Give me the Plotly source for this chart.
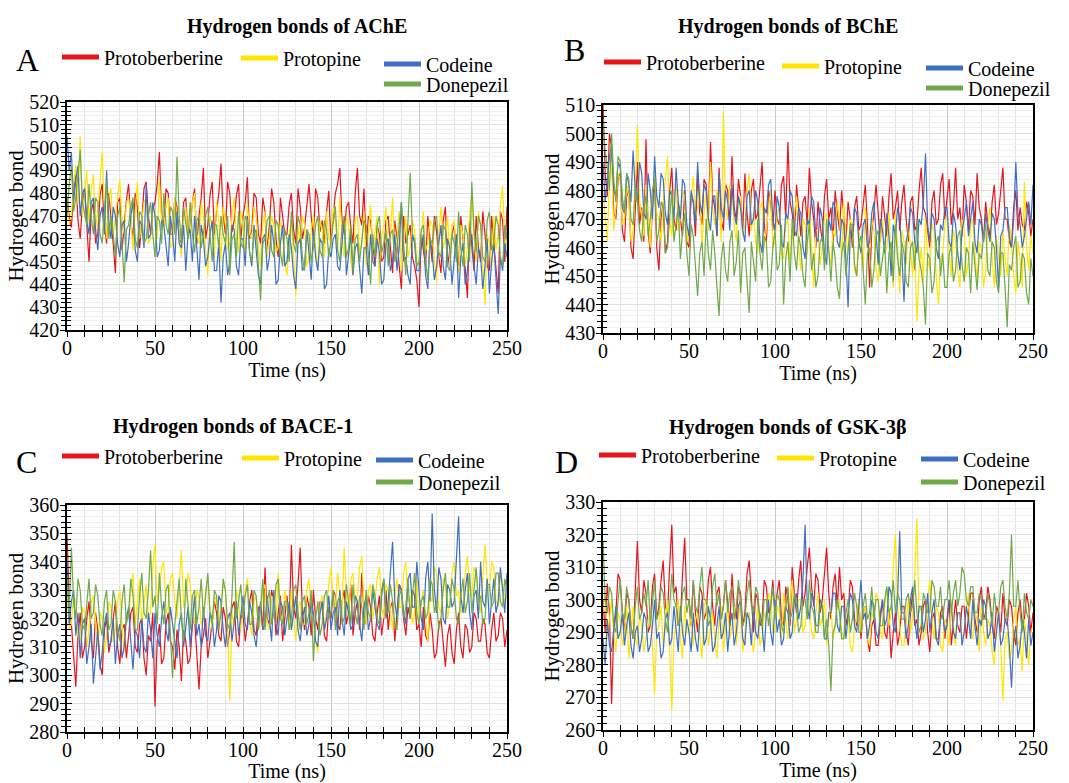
import plotly.graph_objects as go

# ---------------- data ----------------
SERIES_NAMES = ["Protoberberine", "Protopine", "Codeine", "Donepezil"]
SERIES_COLORS = ["#e8141c", "#ffe500", "#3f6fc4", "#6fa94a"]
PANEL_TITLES = ["Hydrogen bonds of AChE", "Hydrogen bonds of BChE",
                "Hydrogen bonds of BACE-1", "Hydrogen bonds of GSK-3β"]
PANEL_LETTERS = ["A", "B", "C", "D"]
Y_RANGES = [[420, 520], [430, 510], [280, 360], [260, 330]]
X_RANGE = [0, 250]
X_TICKS = [0, 50, 100, 150, 200, 250]
X_TITLE = "Time (ns)"
Y_TITLE = "Hydrogen bond"

# Panel A - AChE
ache_protoberberine = [
    478, 470, 465, 481, 488, 468, 460, 475, 482, 463, 450, 472, 476, 458, 462, 479, 484, 466, 458, 480,
    470, 458, 445, 476, 478, 455, 466, 477, 484, 468, 460, 480, 474, 456, 468, 482, 485, 470, 462, 473,
    476, 484, 498, 470, 466, 482, 480, 462, 462, 478, 474, 460, 458, 476, 478, 461, 465, 476, 482, 458,
    470, 478, 491, 460, 466, 479, 485, 462, 472, 480, 493, 470, 462, 485, 480, 463, 468, 479, 484, 460,
    470, 476, 487, 460, 464, 480, 478, 462, 458, 478, 472, 455, 466, 482, 476, 460, 452, 478, 470, 462,
    462, 475, 480, 464, 458, 482, 474, 460, 465, 476, 484, 470, 460, 482, 478, 463, 468, 458, 472, 481,
    458, 470, 480, 484, 491, 468, 462, 474, 476, 465, 458, 480, 491, 470, 466, 482, 456, 470, 468, 458,
    448, 466, 462, 450, 452, 468, 470, 456, 445, 468, 460, 448, 438, 470, 458, 462, 466, 452, 448, 442,
    430, 462, 455, 448, 470, 458, 450, 470, 463, 452, 445, 468, 474, 448, 456, 462, 466, 452, 448, 470,
    460, 448, 434, 468, 458, 446, 470, 456, 450, 472, 462, 448, 446, 470, 458, 446, 436, 472, 468, 450,
    474]
ache_protopine = [
    478, 466, 470, 484, 492, 475, 505, 470, 480, 490, 466, 482, 488, 465, 472, 486, 498, 474, 460, 478,
    482, 462, 470, 480, 486, 468, 462, 476, 478, 470, 455, 472, 485, 460, 468, 476, 478, 458, 460, 474,
    472, 460, 486, 468, 465, 474, 478, 456, 458, 478, 470, 462, 452, 468, 474, 460, 462, 476, 480, 462,
    458, 476, 470, 455, 444, 470, 466, 452, 476, 468, 450, 474, 468, 455, 458, 470, 478, 460, 454, 472,
    466, 452, 476, 462, 460, 474, 470, 456, 448, 466, 472, 452, 460, 470, 466, 454, 456, 468, 462, 450,
    444, 462, 468, 450, 435, 466, 458, 470, 466, 448, 452, 464, 470, 456, 446, 468, 464, 452, 472, 460,
    458, 474, 468, 455, 478, 462, 452, 470, 466, 450, 444, 468, 470, 454, 458, 472, 448, 462, 475, 455,
    462, 470, 440, 460, 466, 474, 452, 462, 478, 455, 460, 472, 446, 458, 470, 452, 456, 468, 464, 450,
    448, 462, 472, 455, 458, 468, 466, 450, 441, 462, 474, 456, 460, 470, 452, 466, 468, 452, 445, 466,
    462, 448, 456, 470, 480, 460, 450, 472, 466, 448, 431, 462, 458, 446, 470, 455, 462, 474, 483, 460,
    456]
ache_codeine = [
    505, 490, 498, 476, 486, 492, 470, 480, 482, 468, 462, 476, 478, 464, 455, 470, 474, 462, 490, 468,
    460, 474, 470, 458, 452, 466, 468, 450, 458, 470, 476, 455, 450, 468, 466, 456, 484, 460, 462, 476,
    470, 452, 455, 468, 466, 456, 448, 470, 462, 450, 472, 458, 456, 466, 446, 462, 464, 450, 470, 456,
    442, 466, 460, 448, 452, 462, 468, 446, 446, 458, 432, 452, 458, 444, 450, 466, 464, 448, 444, 460,
    460, 448, 470, 454, 448, 466, 456, 444, 440, 460, 462, 446, 452, 466, 458, 440, 442, 458, 466, 448,
    450, 462, 456, 444, 438, 458, 460, 446, 448, 464, 454, 442, 464, 452, 446, 460, 458, 438, 440, 456,
    452, 460, 462, 448, 446, 458, 470, 444, 452, 462, 444, 456, 458, 448, 436, 456, 456, 444, 462, 450,
    448, 460, 454, 440, 442, 458, 460, 446, 450, 462, 446, 456, 476, 450, 452, 444, 440, 462, 458, 446,
    446, 456, 462, 444, 438, 460, 454, 442, 448, 458, 466, 448, 442, 460, 456, 440, 450, 462, 434, 452,
    458, 440, 446, 458, 462, 448, 440, 456, 452, 438, 448, 460, 436, 450, 458, 440, 427, 452, 446, 458,
    452]
ache_donepezil = [
    470, 484, 492, 472, 478, 488, 499, 476, 470, 466, 484, 470, 462, 478, 476, 462, 458, 474, 486, 460,
    470, 462, 452, 470, 474, 458, 441, 464, 466, 474, 478, 460, 456, 472, 470, 458, 460, 470, 476, 462,
    452, 470, 468, 458, 480, 466, 462, 474, 472, 462, 496, 470, 458, 474, 468, 460, 476, 462, 454, 468,
    470, 456, 462, 470, 474, 460, 450, 466, 466, 456, 470, 462, 458, 470, 444, 460, 462, 452, 472, 458,
    456, 470, 468, 454, 450, 462, 464, 448, 433, 458, 460, 468, 470, 455, 452, 468, 466, 454, 448, 464,
    460, 450, 472, 458, 454, 470, 466, 452, 446, 464, 462, 450, 456, 466, 470, 455, 452, 468, 464, 452,
    460, 468, 474, 455, 450, 466, 468, 452, 456, 466, 446, 460, 462, 450, 458, 468, 466, 452, 440, 462,
    452, 466, 470, 454, 458, 464, 448, 462, 464, 450, 456, 466, 476, 458, 444, 468, 489, 462, 460, 448,
    450, 464, 466, 450, 442, 460, 458, 468, 470, 454, 452, 466, 464, 448, 446, 462, 458, 450, 472, 456,
    448, 466, 462, 450, 485, 464, 454, 470, 466, 452, 450, 468, 472, 455, 458, 470, 466, 452, 448, 466,
    460]

# Panel B - BChE
bche_protoberberine = [
    510, 486, 478, 500, 495, 472, 470, 484, 486, 466, 462, 478, 480, 460, 456, 472, 490, 468, 474, 462,
    498, 466, 458, 474, 484, 460, 452, 470, 476, 458, 462, 480, 488, 470, 466, 476, 470, 464, 480, 462,
    460, 478, 476, 464, 486, 472, 468, 484, 482, 470, 497, 478, 474, 464, 488, 470, 466, 482, 480, 468,
    492, 474, 470, 484, 478, 466, 486, 472, 464, 480, 484, 470, 472, 482, 490, 468, 462, 480, 476, 466,
    480, 470, 468, 482, 485, 470, 497, 476, 472, 464, 482, 474, 464, 476, 478, 468, 488, 476, 470, 460,
    476, 468, 462, 478, 484, 470, 474, 462, 480, 472, 466, 480, 470, 462, 476, 470, 460, 474, 478, 466,
    468, 476, 482, 468, 446, 466, 472, 482, 470, 462, 478, 470, 464, 478, 486, 470, 474, 480, 466, 476,
    482, 470, 462, 476, 478, 466, 468, 480, 488, 474, 472, 466, 460, 476, 480, 468, 470, 482, 486, 470,
    476, 484, 468, 474, 488, 470, 474, 464, 482, 476, 466, 480, 478, 468, 486, 474, 470, 462, 476, 468,
    464, 476, 482, 468, 472, 480, 488, 470, 470, 462, 460, 474, 480, 466, 474, 468, 466, 476, 472, 464,
    470]
bche_protopine = [
    480, 472, 462, 484, 490, 466, 474, 486, 484, 468, 470, 482, 478, 462, 466, 480, 503, 476, 472, 464,
    482, 470, 460, 476, 488, 472, 470, 462, 476, 484, 492, 470, 464, 478, 482, 466, 470, 480, 478, 462,
    466, 478, 485, 470, 474, 482, 460, 472, 480, 466, 490, 474, 468, 480, 476, 462, 508, 474, 470, 482,
    480, 468, 462, 476, 478, 464, 468, 480, 486, 466, 472, 462, 458, 474, 476, 460, 466, 474, 480, 460,
    462, 472, 474, 458, 456, 468, 470, 454, 464, 472, 478, 460, 452, 470, 468, 458, 474, 462, 446, 466,
    466, 454, 460, 470, 472, 458, 454, 466, 464, 476, 470, 456, 476, 464, 458, 470, 468, 452, 450, 466,
    462, 452, 474, 460, 458, 470, 466, 452, 448, 464, 470, 458, 460, 472, 456, 446, 472, 460, 444, 466,
    462, 454, 468, 460, 450, 462, 434, 452, 460, 448, 470, 456, 452, 468, 466, 450, 440, 456, 458, 468,
    472, 458, 450, 466, 462, 452, 446, 470, 466, 450, 456, 468, 470, 458, 448, 462, 460, 446, 452, 468,
    474, 456, 446, 464, 458, 450, 466, 456, 450, 468, 462, 450, 444, 462, 456, 446, 483, 460, 452, 464,
    458]
bche_codeine = [
    490, 476, 484, 492, 496, 480, 478, 490, 488, 474, 472, 486, 482, 476, 494, 480, 476, 490, 486, 472,
    470, 486, 480, 470, 492, 478, 474, 486, 484, 472, 468, 480, 478, 470, 488, 476, 470, 484, 482, 468,
    464, 480, 476, 468, 490, 476, 472, 482, 480, 470, 466, 478, 478, 464, 486, 474, 470, 480, 476, 466,
    482, 472, 468, 478, 474, 466, 462, 478, 480, 468, 470, 480, 476, 462, 458, 474, 472, 482, 484, 470,
    466, 478, 474, 462, 460, 472, 470, 480, 478, 466, 464, 474, 472, 460, 456, 470, 468, 478, 476, 464,
    462, 474, 470, 458, 454, 470, 466, 476, 474, 462, 460, 470, 468, 456, 439, 466, 464, 474, 472, 462,
    458, 468, 470, 460, 462, 472, 476, 464, 454, 470, 466, 458, 472, 464, 450, 468, 464, 474, 470, 458,
    441, 462, 466, 474, 472, 462, 458, 470, 468, 476, 493, 468, 462, 472, 470, 460, 456, 468, 466, 474,
    474, 462, 460, 472, 468, 458, 452, 466, 470, 476, 464, 470, 476, 462, 458, 470, 468, 462, 472, 466,
    462, 472, 470, 460, 446, 464, 466, 474, 474, 464, 460, 470, 490, 472, 468, 460, 464, 470, 476, 468,
    482]
bche_donepezil = [
    505, 494, 488, 480, 500, 484, 476, 492, 490, 478, 472, 486, 484, 470, 468, 482, 476, 466, 462, 474,
    478, 464, 470, 480, 484, 462, 466, 476, 474, 458, 460, 472, 480, 462, 468, 474, 456, 466, 472, 458,
    450, 468, 464, 452, 443, 458, 462, 450, 470, 458, 452, 466, 458, 446, 436, 456, 462, 452, 448, 462,
    466, 450, 455, 466, 444, 458, 460, 448, 437, 462, 456, 448, 470, 458, 452, 464, 462, 446, 448, 460,
    466, 452, 454, 468, 440, 456, 462, 448, 470, 458, 452, 464, 460, 450, 446, 462, 468, 452, 458, 446,
    450, 462, 464, 452, 470, 458, 448, 462, 456, 446, 442, 458, 462, 450, 458, 468, 468, 454, 450, 462,
    464, 452, 440, 458, 460, 446, 452, 464, 466, 450, 456, 462, 444, 458, 462, 448, 468, 456, 450, 462,
    458, 448, 446, 460, 462, 452, 470, 456, 452, 446, 433, 458, 456, 444, 448, 462, 464, 450, 458, 446,
    446, 458, 460, 448, 452, 464, 466, 454, 448, 460, 458, 444, 462, 452, 445, 458, 456, 464, 468, 452,
    450, 462, 460, 448, 444, 458, 458, 446, 432, 454, 452, 460, 464, 446, 448, 458, 456, 444, 440, 456,
    450]

# Panel C - BACE-1
bace_protoberberine = [
    350, 326, 318, 308, 296, 314, 322, 306, 310, 320, 326, 312, 306, 322, 316, 304, 300, 316, 320, 308,
    312, 320, 326, 310, 304, 316, 318, 306, 314, 322, 324, 310, 308, 318, 320, 306, 300, 314, 312, 322,
    289, 312, 318, 304, 306, 318, 322, 312, 310, 302, 316, 310, 298, 316, 312, 304, 306, 318, 320, 308,
    295, 310, 314, 320, 306, 312, 318, 326, 322, 314, 312, 324, 320, 310, 316, 324, 326, 312, 310, 320,
    322, 312, 318, 326, 330, 316, 314, 324, 324, 316, 338, 320, 318, 330, 326, 314, 322, 328, 312, 320,
    328, 318, 346, 324, 320, 332, 345, 322, 316, 328, 324, 314, 330, 320, 316, 326, 324, 314, 312, 324,
    320, 330, 328, 318, 316, 326, 330, 318, 322, 332, 314, 322, 326, 316, 336, 322, 318, 328, 324, 314,
    312, 322, 328, 314, 320, 330, 316, 324, 326, 312, 322, 332, 330, 320, 314, 324, 320, 330, 328, 316,
    318, 310, 324, 314, 312, 322, 316, 306, 308, 318, 320, 310, 303, 314, 318, 308, 304, 316, 322, 310,
    306, 318, 316, 308, 310, 322, 320, 312, 312, 320, 318, 308, 306, 316, 322, 312, 314, 322, 320, 310,
    316]
bace_protopine = [
    330, 316, 318, 328, 326, 314, 312, 324, 322, 310, 316, 326, 328, 318, 310, 322, 320, 308, 314, 326,
    324, 312, 316, 326, 330, 318, 308, 322, 320, 330, 336, 318, 326, 334, 318, 326, 332, 320, 322, 338,
    346, 326, 330, 338, 340, 322, 324, 334, 336, 326, 320, 332, 344, 324, 326, 336, 332, 322, 318, 330,
    328, 318, 320, 330, 334, 322, 316, 328, 326, 318, 324, 332, 330, 316, 291, 322, 318, 330, 326, 316,
    322, 330, 334, 320, 314, 326, 328, 316, 320, 330, 332, 318, 316, 328, 326, 318, 336, 322, 318, 330,
    324, 316, 330, 322, 312, 324, 326, 318, 318, 330, 334, 322, 320, 312, 308, 324, 328, 316, 322, 332,
    338, 326, 324, 336, 330, 322, 345, 328, 320, 334, 336, 326, 328, 338, 342, 324, 318, 330, 332, 320,
    326, 334, 338, 324, 320, 332, 330, 322, 316, 328, 334, 324, 324, 336, 340, 326, 328, 318, 322, 334,
    318, 326, 330, 320, 312, 328, 326, 338, 336, 324, 322, 334, 332, 320, 326, 336, 340, 328, 330, 322,
    324, 336, 342, 330, 328, 338, 336, 326, 322, 334, 346, 332, 330, 340, 338, 326, 324, 336, 332, 326,
    328]
bace_codeine = [
    340, 318, 326, 330, 314, 322, 306, 318, 320, 304, 310, 318, 297, 308, 316, 302, 308, 318, 322, 310,
    312, 320, 304, 314, 318, 306, 310, 320, 324, 312, 302, 316, 314, 306, 320, 310, 308, 322, 316, 306,
    322, 314, 310, 320, 326, 316, 312, 324, 318, 310, 306, 318, 322, 310, 316, 324, 310, 318, 328, 314,
    318, 310, 324, 314, 312, 322, 320, 310, 316, 328, 326, 316, 310, 320, 322, 312, 318, 326, 314, 322,
    328, 318, 316, 326, 322, 314, 310, 320, 326, 316, 318, 328, 320, 312, 330, 318, 314, 326, 324, 314,
    320, 326, 316, 322, 328, 316, 312, 320, 324, 314, 318, 326, 322, 312, 310, 322, 326, 316, 320, 328,
    316, 322, 324, 314, 330, 320, 314, 326, 322, 316, 318, 328, 326, 318, 312, 324, 328, 316, 320, 330,
    324, 318, 316, 328, 334, 320, 326, 338, 347, 326, 320, 332, 330, 322, 318, 334, 336, 324, 324, 340,
    328, 320, 316, 334, 340, 326, 357, 330, 322, 338, 334, 320, 318, 332, 330, 324, 326, 340, 356, 328,
    322, 330, 336, 322, 316, 328, 330, 320, 340, 326, 324, 334, 318, 326, 334, 322, 326, 338, 330, 322,
    336]
bace_donepezil = [
    335, 322, 345, 326, 320, 334, 330, 318, 316, 326, 334, 320, 322, 332, 328, 318, 314, 326, 330, 316,
    318, 330, 326, 316, 312, 326, 332, 318, 322, 334, 328, 316, 316, 328, 336, 322, 320, 330, 344, 324,
    328, 318, 336, 324, 318, 330, 332, 314, 299, 318, 326, 334, 320, 312, 334, 324, 316, 328, 330, 318,
    324, 334, 320, 328, 336, 322, 318, 330, 328, 316, 322, 334, 330, 318, 316, 328, 347, 320, 326, 332,
    320, 328, 332, 318, 318, 330, 328, 316, 324, 334, 316, 326, 330, 318, 322, 332, 334, 320, 318, 326,
    326, 316, 320, 330, 332, 322, 316, 326, 328, 318, 322, 330, 305, 320, 326, 314, 318, 328, 330, 320,
    322, 330, 316, 326, 328, 318, 320, 332, 326, 318, 332, 322, 318, 328, 324, 316, 330, 322, 320, 332,
    328, 320, 318, 330, 334, 322, 322, 332, 326, 318, 316, 328, 330, 320, 324, 334, 320, 328, 336, 322,
    318, 326, 328, 320, 322, 334, 332, 322, 326, 316, 320, 330, 336, 324, 324, 334, 330, 320, 318, 328,
    334, 322, 326, 336, 322, 330, 338, 326, 328, 318, 320, 332, 332, 324, 326, 336, 336, 326, 324, 334,
    330]

# Panel D - GSK-3beta
gsk_protoberberine = [
    300, 290, 305, 296, 268, 290, 296, 308, 306, 296, 290, 302, 300, 292, 288, 304, 318, 300, 296, 306,
    302, 290, 292, 304, 308, 294, 298, 306, 312, 298, 296, 310, 323, 302, 304, 292, 294, 308, 319, 300,
    300, 292, 306, 296, 290, 304, 302, 294, 296, 306, 310, 298, 292, 302, 304, 294, 298, 306, 300, 292,
    308, 298, 294, 304, 302, 292, 296, 308, 312, 300, 290, 302, 300, 292, 294, 306, 304, 296, 298, 306,
    296, 302, 306, 294, 292, 304, 300, 292, 310, 302, 296, 306, 312, 298, 302, 310, 316, 304, 298, 308,
    306, 296, 300, 308, 316, 302, 294, 304, 308, 298, 310, 300, 302, 292, 296, 306, 304, 294, 292, 300,
    288, 296, 298, 288, 284, 292, 294, 286, 286, 294, 300, 290, 288, 296, 282, 290, 296, 286, 290, 298,
    298, 290, 286, 296, 302, 292, 294, 286, 290, 298, 300, 290, 284, 294, 296, 288, 288, 296, 298, 288,
    294, 300, 286, 294, 300, 292, 290, 298, 298, 288, 294, 302, 302, 294, 290, 300, 304, 294, 296, 304,
    300, 292, 288, 298, 296, 290, 302, 294, 292, 300, 298, 290, 286, 296, 300, 292, 294, 302, 298, 290,
    296]
gsk_protopine = [
    296, 302, 288, 294, 300, 290, 284, 296, 294, 286, 290, 298, 282, 290, 298, 288, 286, 296, 292, 284,
    288, 294, 296, 286, 271, 290, 292, 298, 286, 292, 300, 284, 266, 288, 294, 300, 288, 282, 298, 290,
    290, 296, 286, 294, 296, 288, 282, 298, 300, 286, 292, 296, 288, 282, 294, 298, 284, 292, 298, 288,
    292, 298, 286, 294, 300, 284, 290, 296, 296, 288, 284, 292, 298, 286, 288, 296, 294, 302, 300, 290,
    290, 298, 296, 288, 302, 294, 288, 298, 306, 290, 294, 300, 300, 290, 292, 298, 298, 290, 288, 296,
    302, 292, 294, 300, 286, 294, 298, 288, 292, 298, 300, 290, 288, 296, 296, 286, 284, 292, 294, 300,
    290, 296, 298, 288, 286, 296, 294, 302, 300, 290, 288, 298, 304, 292, 296, 310, 320, 298, 292, 286,
    286, 294, 300, 290, 294, 308, 325, 296, 298, 288, 290, 300, 306, 294, 288, 298, 296, 286, 284, 294,
    292, 286, 300, 292, 286, 296, 296, 288, 290, 298, 302, 290, 288, 296, 294, 284, 298, 290, 286, 294,
    292, 284, 280, 292, 296, 286, 269, 288, 290, 282, 284, 294, 298, 286, 288, 278, 294, 288, 280, 290,
    292]
gsk_codeine = [
    288, 280, 294, 286, 284, 292, 298, 288, 290, 296, 286, 292, 296, 286, 282, 290, 292, 284, 288, 296,
    294, 284, 286, 292, 300, 288, 290, 282, 284, 294, 296, 286, 288, 298, 292, 284, 298, 290, 286, 294,
    290, 284, 296, 288, 284, 294, 300, 286, 288, 298, 294, 284, 286, 292, 298, 288, 290, 296, 284, 292,
    296, 286, 290, 298, 300, 288, 286, 296, 294, 286, 298, 290, 288, 296, 292, 284, 296, 300, 290, 286,
    300, 290, 294, 286, 288, 298, 296, 288, 290, 300, 302, 294, 298, 306, 323, 298, 294, 302, 300, 292,
    292, 300, 298, 288, 288, 296, 296, 302, 302, 292, 290, 298, 298, 288, 294, 302, 300, 292, 290, 298,
    306, 294, 296, 288, 292, 300, 298, 290, 288, 296, 300, 292, 294, 304, 302, 292, 290, 300, 321, 296,
    296, 288, 292, 300, 304, 294, 288, 298, 298, 290, 294, 302, 290, 296, 300, 288, 286, 294, 296, 290,
    292, 300, 298, 290, 288, 296, 296, 286, 290, 298, 294, 288, 300, 292, 286, 294, 292, 300, 298, 288,
    290, 296, 284, 290, 296, 286, 288, 294, 294, 286, 273, 288, 292, 282, 286, 294, 290, 282, 294, 286,
    290]
gsk_donepezil = [
    318, 300, 296, 304, 302, 292, 290, 300, 306, 296, 294, 304, 300, 292, 288, 298, 304, 294, 296, 302,
    298, 306, 292, 300, 306, 294, 296, 304, 302, 294, 290, 298, 308, 300, 298, 292, 294, 302, 304, 296,
    300, 294, 306, 298, 296, 304, 310, 300, 300, 292, 294, 304, 308, 298, 302, 294, 298, 306, 296, 302,
    304, 294, 298, 306, 300, 292, 294, 302, 306, 298, 296, 304, 302, 294, 292, 300, 300, 292, 298, 304,
    294, 302, 300, 292, 290, 298, 304, 294, 296, 302, 298, 290, 292, 300, 300, 294, 306, 298, 296, 290,
    290, 298, 298, 288, 294, 286, 272, 290, 292, 300, 296, 288, 288, 296, 300, 290, 294, 302, 298, 290,
    290, 298, 302, 294, 296, 304, 294, 300, 300, 292, 292, 300, 304, 296, 298, 306, 296, 302, 300, 294,
    294, 300, 302, 296, 298, 306, 296, 290, 292, 302, 300, 296, 296, 306, 304, 298, 298, 304, 294, 300,
    300, 306, 296, 302, 306, 298, 302, 310, 308, 300, 298, 304, 304, 296, 296, 302, 300, 294, 294, 302,
    298, 292, 302, 296, 296, 304, 306, 298, 294, 302, 320, 298, 298, 306, 296, 290, 302, 296, 294, 300,
    298]

PANEL_DATA = [
    [ache_protoberberine, ache_protopine, ache_codeine, ache_donepezil],
    [bche_protoberberine, bche_protopine, bche_codeine, bche_donepezil],
    [bace_protoberberine, bace_protopine, bace_codeine, bace_donepezil],
    [gsk_protoberberine, gsk_protopine, gsk_codeine, gsk_donepezil],
]

# ---------------- layout (pixel geometry) ----------------
W, H = 1069, 783
FONT = "Liberation Serif, Times New Roman, serif"


def px(x):
    return x / W


def py(y):
    return 1 - y / H


# plot boxes: (left, right, top, bottom) in px
BOXES = [(67, 507, 102, 330), (603, 1033, 105, 333),
         (67, 507, 505, 732), (603, 1033, 502, 730)]
TITLE_POS = [(297, 26), (788, 27), (233, 426), (787, 427)]
LETTER_POS = [(27, 60), (574, 50), (26, 462), (566, 462)]
# legend entries: (line start x, center y) for each series
LEGEND_POS = [
    [(63, 57), (242, 58), (385, 64), (385, 84)],
    [(605, 62), (783, 66), (927, 68), (927, 88)],
    [(63, 456), (243, 458), (377, 460), (377, 482)],
    [(600, 455), (778, 458), (922, 459), (922, 482)],
]

fig = go.Figure()
layout = dict(
    width=W, height=H, margin=dict(l=0, r=0, t=0, b=0),
    paper_bgcolor="white", plot_bgcolor="white",
    font=dict(family=FONT, color="black"),
    annotations=[], showlegend=True,
)

leg_n = 0
for p in range(4):
    k = p + 1
    xa = "x" if k == 1 else f"x{k}"
    ya = "y" if k == 1 else f"y{k}"
    for s in range(4):
        vals = PANEL_DATA[p][s]
        n = len(vals)
        t = [X_RANGE[1] * i / (n - 1) for i in range(n)]
        leg_n += 1
        lname = "legend" if leg_n == 1 else f"legend{leg_n}"
        fig.add_trace(go.Scatter(
            x=t, y=vals, mode="lines", name=SERIES_NAMES[s],
            line=dict(color=SERIES_COLORS[s], width=1.2),
            xaxis=xa, yaxis=ya, legend=lname, showlegend=True,
        ))
        lx, ly = LEGEND_POS[p][s]
        layout[lname] = dict(
            x=px(lx - 6), y=py(ly), xanchor="left", yanchor="middle",
            bgcolor="rgba(0,0,0,0)", borderwidth=0, itemsizing="constant",
            itemwidth=37, font=dict(family=FONT, size=20, color="black"),
            tracegroupgap=0,
        )

    l, r, tp, bt = BOXES[p]
    xd = [px(l), px(r)]
    yd = [py(bt), py(tp)]
    yr = Y_RANGES[p]
    layout[f"xaxis{k}"] = dict(
        domain=xd, range=X_RANGE, anchor=ya, tickvals=X_TICKS,
        ticks="outside", ticklen=5, tickwidth=1.3, tickcolor="black",
        ticklabelstandoff=-6,
        showline=True, linecolor="black", linewidth=1.5, mirror=True,
        showgrid=True, gridcolor="#c9c9c9", gridwidth=1,
        tickfont=dict(family=FONT, size=20, color="black"),
        title=dict(text=X_TITLE, font=dict(family=FONT, size=20), standoff=4),
        minor=dict(dtick=10, tick0=0, ticks="outside", ticklen=5, tickwidth=1.3,
                   tickcolor="black", showgrid=True, gridcolor="#e4e4e4"),
        zeroline=False, automargin=False, fixedrange=True,
    )
    layout[f"yaxis{k}"] = dict(
        domain=yd, range=yr, anchor=xa, dtick=10, tick0=0,
        ticks="outside", ticklen=5, tickwidth=1.3, tickcolor="black",
        ticklabelstandoff=-3,
        showline=True, linecolor="black", linewidth=1.5, mirror=True,
        showgrid=True, gridcolor="#dedede", gridwidth=1,
        tickfont=dict(family=FONT, size=20, color="black"),
        title=dict(text=Y_TITLE, font=dict(family=FONT, size=21), standoff=0),
        minor=dict(dtick=2, tick0=0, ticks="outside", ticklen=4, tickwidth=1,
                   tickcolor="black", showgrid=True, gridcolor="#f0f0f0"),
        zeroline=False, automargin=False, fixedrange=True,
    )
    # overlay axes producing the inward half of the crossing ticks
    ko = k + 4
    layout[f"xaxis{ko}"] = dict(
        domain=xd, range=X_RANGE, anchor=ya, overlaying=xa, tickvals=X_TICKS,
        ticks="inside", ticklen=5, tickwidth=1.3, tickcolor="black",
        showticklabels=False, showgrid=False, showline=False, zeroline=False,
        minor=dict(dtick=10, tick0=0, ticks="inside", ticklen=5, tickwidth=1.3,
                   tickcolor="black", showgrid=False),
        automargin=False, fixedrange=True,
    )
    layout[f"yaxis{ko}"] = dict(
        domain=yd, range=yr, anchor=xa, overlaying=ya, dtick=10, tick0=0,
        ticks="inside", ticklen=5, tickwidth=1.3, tickcolor="black",
        showticklabels=False, showgrid=False, showline=False, zeroline=False,
        minor=dict(dtick=2, tick0=0, ticks="inside", ticklen=4, tickwidth=1,
                   tickcolor="black", showgrid=False),
        automargin=False, fixedrange=True,
    )
    fig.add_trace(go.Scatter(x=[], y=[], xaxis=f"x{ko}", yaxis=f"y{ko}",
                             showlegend=False, hoverinfo="skip"))

    tx, ty = TITLE_POS[p]
    layout["annotations"].append(dict(
        text=f"<b>{PANEL_TITLES[p]}</b>", x=px(tx), y=py(ty), xref="paper",
        yref="paper", xanchor="center", yanchor="middle", showarrow=False,
        font=dict(family=FONT, size=20, color="black")))
    lx, ly = LETTER_POS[p]
    layout["annotations"].append(dict(
        text=PANEL_LETTERS[p], x=px(lx), y=py(ly), xref="paper", yref="paper",
        xanchor="center", yanchor="middle", showarrow=False,
        font=dict(family=FONT, size=32, color="black")))

fig.update_layout(**layout)

fig.write_html("out.html", config={"displayModeBar": False},
               post_script="document.body.style.margin='0';"
                           "document.body.style.overflow='hidden';")
